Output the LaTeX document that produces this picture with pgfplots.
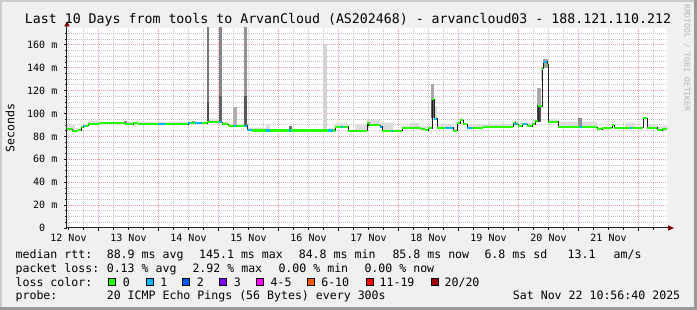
\documentclass[border=0pt]{standalone}
\usepackage{pgfplots}
\pgfplotsset{compat=1.18}
\usepackage{pgfplotstable}
\usetikzlibrary{arrows.meta}
\usepackage{fontspec}
\setmainfont{DejaVu Sans Mono}

\definecolor{bgc}{HTML}{F0F0F0}
\definecolor{shadea}{HTML}{CBCBCB}
\definecolor{shadeb}{HTML}{999999}
\definecolor{mgrid}{HTML}{EE9A9A}
\definecolor{mingrid}{HTML}{C4C4C4}
\definecolor{axisc}{HTML}{202020}
\definecolor{arrowc}{HTML}{7F0000}
\definecolor{loss0}{HTML}{26FF00}
\definecolor{loss1}{HTML}{00B8FF}
\definecolor{loss2}{HTML}{0059FF}
\definecolor{loss3}{HTML}{7E00FF}
\definecolor{loss4}{HTML}{FF00FF}
\definecolor{loss6}{HTML}{FF5500}
\definecolor{loss11}{HTML}{FF0000}
\definecolor{loss20}{HTML}{A10000}
\definecolor{smokeL}{HTML}{DCDCDC}
\definecolor{wmark}{HTML}{B8B8B8}

\newcommand\lf{\fontsize{11.58}{14}\selectfont}

% median rtt (days since 12 Nov 00:00, ms)
\pgfplotstableread{
x y
0.475 86.2
0.558 85.0
0.658 85.5
0.708 88.0
0.742 89.4
0.825 90.8
1.000 91.4
1.442 90.5
1.575 91.4
1.658 90.5
2.492 91.4
2.808 92.6
3.058 90.8
3.158 89.4
3.475 85.6
3.558 85.2
4.942 88.5
5.158 85.0
5.475 91.4
5.500 90.0
5.692 88.5
5.725 85.0
6.058 87.6
6.308 87.0
6.375 86.2
6.442 85.6
6.492 87.0
6.558 112.4
6.592 95.5
6.642 87.6
6.908 85.0
6.975 91.4
7.025 94.0
7.075 90.8
7.142 87.6
7.408 88.5
7.908 92.0
7.942 90.8
7.992 89.1
8.058 90.8
8.142 89.1
8.225 90.8
8.275 93.4
8.325 106.6
8.392 139.4
8.408 145.3
8.475 142.6
8.492 92.9
8.658 87.9
9.308 86.5
9.392 87.6
9.558 90.0
9.592 87.6
10.075 95.8
10.142 87.6
10.308 85.6
10.392 86.5
10.475 86.5
}\median

\begin{document}
\begin{tikzpicture}
\fill[bgc] (0pt,0pt) rectangle (697pt,310pt);
\fill[shadea] (0pt,0pt) rectangle (2pt,310pt);
\fill[shadea] (0pt,308pt) rectangle (697pt,310pt);
\fill[shadeb] (694pt,0pt) rectangle (697pt,310pt);
\fill[shadeb] (0pt,0pt) rectangle (697pt,3pt);
\path[use as bounding box] (0pt,0pt) rectangle (697pt,310pt);

\begin{axis}[
 at={(67pt,82pt)}, anchor=south west,
 scale only axis, width=600pt, height=200pt,
 xmin=0.475, xmax=10.475, ymin=0, ymax=174.7,
 axis lines=left,
 axis line style={draw=axisc, line width=1pt},
 x axis line style={-{Triangle[length=6pt,width=5pt,color=arrowc,fill=arrowc]}, shorten >=-7pt},
 y axis line style={-{Triangle[length=5pt,width=5.5pt,color=arrowc,fill=arrowc]}, shorten >=-6.5pt},
 axis background/.style={fill=white},
 xtick={1,...,10}, xticklabels={,,,,,,,,,},
 minor xtick={0.5,0.75,1.25,1.5,1.75,2.25,2.5,2.75,3.25,3.5,3.75,4.25,4.5,4.75,5.25,5.5,5.75,6.25,6.5,6.75,7.25,7.5,7.75,8.25,8.5,8.75,9.25,9.5,9.75,10.25},
 extra x ticks={0.5,1.5,2.5,3.5,4.5,5.5,6.5,7.5,8.5,9.5},
 extra x tick labels={12 Nov,13 Nov,14 Nov,15 Nov,16 Nov,17 Nov,18 Nov,19 Nov,20 Nov,21 Nov},
 extra x tick style={grid=none, major tick length=0pt},
 ytick={0,20,40,60,80,100,120,140,160},
 yticklabels={0\phantom{mm},20 m,40 m,60 m,80 m,100 m,120 m,140 m,160 m},
 minor ytick={5,10,15,25,30,35,45,50,55,65,70,75,85,90,95,105,110,115,125,130,135,145,150,155,165,170},
 grid=both,
 major grid style={draw=mgrid, line width=1pt, dash pattern=on 1pt off 1pt},
 minor grid style={draw=mingrid, line width=1pt, dash pattern=on 1pt off 1pt},
 tick align=outside, major tick length=3pt, minor tick length=2pt,
 tick style={draw=axisc, line width=0.8pt},
 ticklabel style={font=\fontsize{10}{12}\selectfont, text=black},
 yticklabel style={anchor=east, inner sep=0pt, xshift=-6.5pt},
 xticklabel style={anchor=base, inner sep=0pt, yshift=-13.5pt},
]
% light smoke band (polygon: upper edge forward, median back)
\addplot[fill=smokeL, draw=none] coordinates {
(0.475,90.0) (0.608,90.0) (0.608,87.0) (0.708,87.0) (0.708,88.0) (0.742,88.0) (0.742,91.0) (0.825,91.0) (0.825,93.7) (1.000,93.7) (1.000,92.8) (2.492,92.8) (2.492,93.0) (2.808,93.0) (2.808,95.5) (3.058,95.5) (3.058,93.0) (3.158,93.0) (3.158,91.0) (3.475,91.0) (3.475,87.5) (3.792,87.5) (3.792,90.0) (3.858,90.0) (3.858,85.2) (4.825,85.2) (4.825,87.0) (4.942,87.0) (4.942,91.4) (5.158,91.4) (5.158,85.0) (5.275,85.0) (5.275,90.0) (5.475,90.0) (5.475,94.3) (5.692,94.3) (5.692,92.0) (5.908,92.0) (5.908,86.0) (6.058,86.0) (6.058,89.5) (6.192,89.5) (6.192,92.0) (6.358,92.0) (6.358,89.0) (6.558,89.0) (6.558,112.4) (6.592,112.4) (6.592,106.0) (6.642,106.0) (6.642,91.0) (6.908,91.0) (6.908,88.0) (6.975,88.0) (6.975,91.4) (7.025,91.4) (7.025,94.0) (7.075,94.0) (7.075,91.0) (7.142,91.0) (7.142,90.0) (7.408,90.0) (7.408,90.8) (7.908,90.8) (7.908,93.0) (7.992,93.0) (7.992,91.5) (8.225,91.5) (8.225,94.3) (8.325,94.3) (8.325,106.6) (8.392,106.6) (8.392,139.4) (8.408,139.4) (8.408,145.3) (8.475,145.3) (8.475,142.6) (8.492,142.6) (8.492,95.5) (8.658,95.5) (8.658,92.5) (9.308,92.5) (9.308,88.0) (9.558,88.0) (9.558,90.0) (9.592,90.0) (9.592,88.0) (9.775,88.0) (9.775,92.0) (9.942,92.0) (9.942,88.5) (10.075,88.5) (10.075,95.8) (10.142,95.8) (10.142,90.5) (10.308,90.5) (10.308,89.0) (10.475,89.0)
(10.475,86.5) (10.392,86.5) (10.392,85.6) (10.308,85.6) (10.308,87.6) (10.142,87.6) (10.142,95.8) (10.075,95.8) (10.075,87.6) (9.592,87.6) (9.592,90.0) (9.558,90.0) (9.558,87.6) (9.392,87.6) (9.392,86.5) (9.308,86.5) (9.308,87.9) (8.658,87.9) (8.658,92.9) (8.492,92.9) (8.492,142.6) (8.475,142.6) (8.475,145.3) (8.408,145.3) (8.408,139.4) (8.392,139.4) (8.392,106.6) (8.325,106.6) (8.325,93.4) (8.275,93.4) (8.275,90.8) (8.225,90.8) (8.225,89.1) (8.142,89.1) (8.142,90.8) (8.058,90.8) (8.058,89.1) (7.992,89.1) (7.992,90.8) (7.942,90.8) (7.942,92.0) (7.908,92.0) (7.908,88.5) (7.408,88.5) (7.408,87.6) (7.142,87.6) (7.142,90.8) (7.075,90.8) (7.075,94.0) (7.025,94.0) (7.025,91.4) (6.975,91.4) (6.975,85.0) (6.908,85.0) (6.908,87.6) (6.642,87.6) (6.642,95.5) (6.592,95.5) (6.592,112.4) (6.558,112.4) (6.558,87.0) (6.492,87.0) (6.492,85.6) (6.442,85.6) (6.442,86.2) (6.375,86.2) (6.375,87.0) (6.308,87.0) (6.308,87.6) (6.058,87.6) (6.058,85.0) (5.725,85.0) (5.725,88.5) (5.692,88.5) (5.692,90.0) (5.500,90.0) (5.500,91.4) (5.475,91.4) (5.475,85.0) (5.158,85.0) (5.158,88.5) (4.942,88.5) (4.942,85.2) (3.558,85.2) (3.558,85.6) (3.475,85.6) (3.475,89.4) (3.158,89.4) (3.158,90.8) (3.058,90.8) (3.058,92.6) (2.808,92.6) (2.808,91.4) (2.492,91.4) (2.492,90.5) (1.658,90.5) (1.658,91.4) (1.575,91.4) (1.575,90.5) (1.442,90.5) (1.442,91.4) (1.000,91.4) (1.000,90.8) (0.825,90.8) (0.825,89.4) (0.742,89.4) (0.742,88.0) (0.708,88.0) (0.708,85.5) (0.658,85.5) (0.658,85.0) (0.558,85.0) (0.558,86.2) (0.475,86.2)
};

% smoke bars
\addplot[draw=black!69, line width=2.5pt] coordinates {(2.825,92.6) (2.825,110)};
\addplot[draw=black!53, line width=2.5pt] coordinates {(2.825,110) (2.825,180)};
\addplot[draw=black!62, line width=3pt] coordinates {(3.033,92.3) (3.033,115)};
\addplot[draw=black!48, line width=3pt] coordinates {(3.033,115) (3.033,180)};
\addplot[draw=black!31, line width=3.5pt] coordinates {(3.275,89.4) (3.275,106)};
\addplot[draw=black!66, line width=3pt] coordinates {(3.450,89.4) (3.450,115)};
\addplot[draw=black!42, line width=3pt] coordinates {(3.450,115) (3.450,180)};
\addplot[draw=black!17, line width=4pt] coordinates {(4.775,85.2) (4.775,160.7)};
\addplot[draw=black!56, line width=3pt] coordinates {(4.200,85.2) (4.200,89.5)};
\addplot[draw=black!46, line width=3pt] coordinates {(1.442,90.5) (1.442,93.5)};
\addplot[draw=black!46, line width=3pt] coordinates {(2.583,91.4) (2.583,93.4)};
\addplot[draw=black!44, line width=3pt] coordinates {(5.500,90.0) (5.500,93.0)};
\addplot[draw=black!62, line width=3pt] coordinates {(6.567,96) (6.567,112)};
\addplot[draw=black!34, line width=3pt] coordinates {(6.567,112) (6.567,126)};
\addplot[draw=black!69, line width=4pt] coordinates {(8.342,93) (8.342,107)};
\addplot[draw=black!34, line width=4pt] coordinates {(8.342,107) (8.342,122)};
\addplot[draw=black!25, line width=2pt] coordinates {(8.392,128) (8.392,140)};
\addplot[draw=black!37, line width=5pt] coordinates {(8.450,140) (8.450,148)};
\addplot[draw=black!44, line width=4pt] coordinates {(9.025,87.9) (9.025,96)};

% median line
\addplot[draw=axisc, line width=0.9pt, const plot mark left] table {\median};
\addplot[draw=loss0, line width=2.2pt, jump mark left] table {\median};
\addplot[draw=loss1, line width=2.2pt, unbounded coords=jump] coordinates {
(0.742,89.4) (0.783,89.4) (0.79,nan)
(1.992,90.5) (2.108,90.5) (2.11,nan)
(2.492,91.4) (2.542,91.4) (2.55,nan)
(2.608,91.4) (2.725,91.4) (2.73,nan)
(3.008,92.6) (3.058,92.6) (3.06,nan)
(3.258,89.4) (3.292,89.4) (3.30,nan)
(3.425,89.4) (3.475,89.4) (3.476,nan)
(3.476,85.6) (3.558,85.6) (3.56,nan)
(3.792,85.2) (3.858,85.2) (3.86,nan)
(4.175,85.2) (4.208,85.2) (4.21,nan)
(4.825,85.2) (4.908,85.2) (4.91,nan)
(5.042,88.5) (5.075,88.5) (5.08,nan)
(5.692,88.5) (5.725,88.5) (5.73,nan)
(5.875,85.0) (5.908,85.0) (5.91,nan)
(6.592,95.5) (6.642,95.5) (6.65,nan)
(6.775,87.6) (6.908,87.6) (6.91,nan)
(7.142,87.6) (7.225,87.6) (7.23,nan)
(7.925,90.8) (7.975,90.8) (7.98,nan)
(8.075,90.8) (8.142,90.8) (8.15,nan)
(8.408,145.3) (8.475,145.3) (8.48,nan)
(9.025,87.9) (9.058,87.9) (9.06,nan)
(9.858,87.6) (9.892,87.6)
};
\end{axis}

% title
\node[anchor=base, inner sep=0pt, font=\fontsize{13.25}{15}\selectfont] at (348pt,286.3pt)
 {Last 10 Days from tools to ArvanCloud (AS202468) - arvancloud03 - 188.121.110.212};
% y label
\node[rotate=90, inner sep=0pt, font=\lf] at (10pt,182pt) {Seconds};
% watermark
\node[rotate=-90, anchor=west, inner sep=0pt, text=wmark, font=\fontsize{8.1}{9}\selectfont] at (687pt,306pt) {RRDTOOL / TOBI OETIKER};

% legend
\begin{scope}[every node/.style={anchor=base west, inner sep=0pt, font=\lf}]
\node at (15.4pt,51.2pt) {median rtt:};
\node at (106.6pt,51.2pt) {88.9 ms avg};
\node at (199.0pt,51.2pt) {145.1 ms max};
\node at (298.6pt,51.2pt) {84.8 ms min};
\node at (392.3pt,51.2pt) {85.8 ms now};
\node at (484.3pt,51.2pt) {6.8 ms sd};
\node at (567.5pt,51.2pt) {13.1};
\node at (613.4pt,51.2pt) {am/s};

\node at (15.4pt,37.6pt) {packet loss:};
\node at (106.6pt,37.6pt) {0.13 \% avg};
\node at (192.3pt,37.6pt) {2.92 \% max};
\node at (278.3pt,37.6pt) {0.00 \% min};
\node at (364.3pt,37.6pt) {0.00 \% now};

\node at (15.4pt,23.8pt) {loss color:};
\node at (122.7pt,23.8pt) {0};
\node at (160.1pt,23.8pt) {1};
\node at (196.7pt,23.8pt) {2};
\node at (233.7pt,23.8pt) {3};
\node at (270.4pt,23.8pt) {4-5};
\node at (321.1pt,23.8pt) {6-10};
\node at (379.4pt,23.8pt) {11-19};
\node at (444.4pt,23.8pt) {20/20};

\node at (15.4pt,10pt) {probe:};
\node at (106.6pt,10pt) {20 ICMP Echo Pings (56 Bytes) every 300s};
\node at (512.7pt,10pt) {Sat Nov 22 10:56:40 2025};
\end{scope}
\begin{scope}[line width=0.8pt]
\filldraw[fill=loss0, draw=black] (108.6pt,24.2pt) rectangle (115.8pt,31.4pt);
\filldraw[fill=loss1, draw=black] (146.0pt,24.2pt) rectangle (153.2pt,31.4pt);
\filldraw[fill=loss2, draw=black] (182.6pt,24.2pt) rectangle (189.8pt,31.4pt);
\filldraw[fill=loss3, draw=black] (219.6pt,24.2pt) rectangle (226.8pt,31.4pt);
\filldraw[fill=loss4, draw=black] (256.3pt,24.2pt) rectangle (263.5pt,31.4pt);
\filldraw[fill=loss6, draw=black] (307.0pt,24.2pt) rectangle (314.2pt,31.4pt);
\filldraw[fill=loss11, draw=black] (366.0pt,24.2pt) rectangle (373.2pt,31.4pt);
\filldraw[fill=loss20, draw=black] (431.3pt,24.2pt) rectangle (438.5pt,31.4pt);
\end{scope}
\end{tikzpicture}
\end{document}
